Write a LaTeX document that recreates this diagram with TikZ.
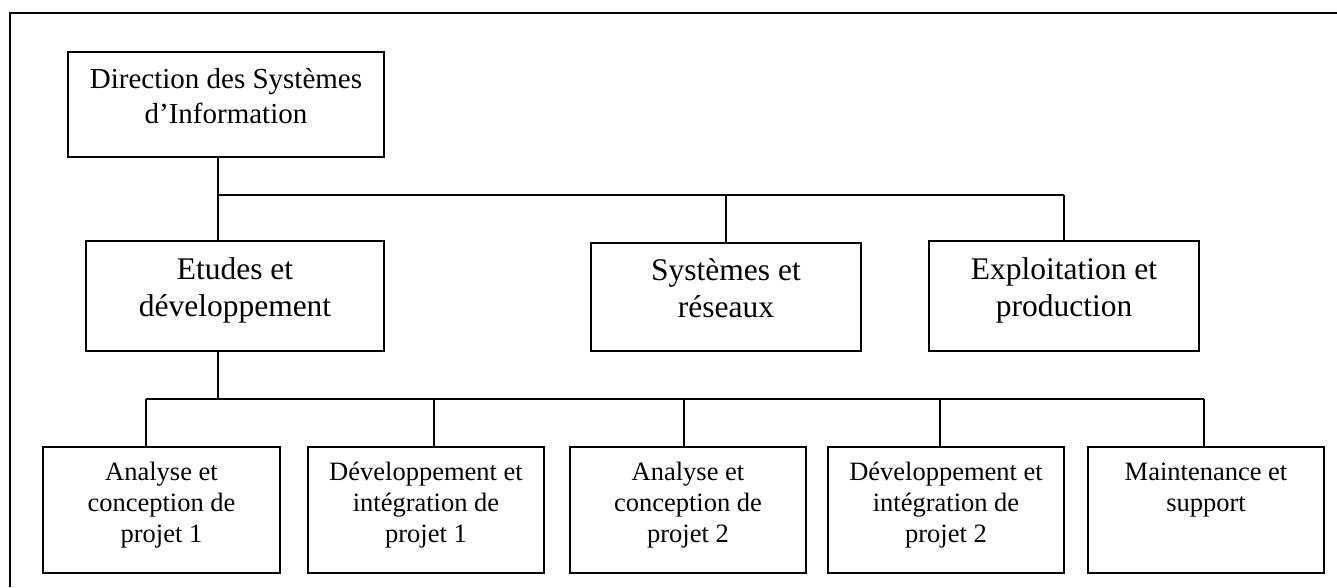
\documentclass[tikz,border=0pt]{standalone}
\usepackage{fontspec}
\setmainfont{Liberation Serif}
\begin{document}
\begin{tikzpicture}[x=1pt,y=-1pt,
  box/.style={draw, line width=2.2pt, rectangle, inner sep=0pt},
  conn/.style={line width=2.2pt},
  thinconn/.style={line width=1.5pt},
  lbltop/.style={align=center, inner sep=0pt, anchor=base, font=\fontsize{29}{35}\selectfont},
  lblmid/.style={align=center, inner sep=0pt, anchor=base, font=\fontsize{31.5}{37}\selectfont},
  lblbot/.style={align=center, inner sep=0pt, anchor=base, font=\fontsize{26.5}{31}\selectfont}]
\useasboundingbox (0,0) rectangle (1337,587);
% page frame (open towards right and bottom)
\draw[line width=2.2pt] (10,587) -- (10,13) -- (1337,13);

% boxes
\node[box, minimum width=316pt, minimum height=105pt] (dsi) at (226,104.5) {};
\node[box, minimum width=298pt, minimum height=110pt] (etu) at (235,296) {};
\node[box, minimum width=270pt, minimum height=108pt] (sys) at (726,297) {};
\node[box, minimum width=270pt, minimum height=110pt] (exp) at (1064,296) {};
\node[box, minimum width=237pt, minimum height=126pt] (b1) at (161.5,510) {};
\node[box, minimum width=236pt, minimum height=126pt] (b2) at (426,510) {};
\node[box, minimum width=236pt, minimum height=126pt] (b3) at (688,510) {};
\node[box, minimum width=236pt, minimum height=126pt] (b4) at (946,510) {};
\node[box, minimum width=236pt, minimum height=126pt] (b5) at (1206,510) {};

% texts, top aligned in their boxes (base anchor = baseline of last line)
\node[lbltop] (dsi-t) at ([yshift=-73pt]dsi.north) {Direction des Systèmes\\d’Information};
\node[lblmid] (etu-t) at ([yshift=-77pt]etu.north) {Etudes et\\développement};
\node[lblmid] (sys-t) at ([yshift=-76pt]sys.north) {Systèmes et\\réseaux};
\node[lblmid] (exp-t) at ([yshift=-77pt]exp.north) {Exploitation et\\production};
\node[lblbot] (b1-t) at ([yshift=-97pt]b1.north) {Analyse et\\conception de\\projet 1};
\node[lblbot] (b2-t) at ([yshift=-97pt]b2.north) {Développement et\\intégration de\\projet 1};
\node[lblbot] (b3-t) at ([yshift=-97pt]b3.north) {Analyse et\\conception de\\projet 2};
\node[lblbot] (b4-t) at ([yshift=-97pt]b4.north) {Développement et\\intégration de\\projet 2};
\node[lblbot] (b5-t) at ([yshift=-66pt]b5.north) {Maintenance et\\support};

% upper level connectors
\coordinate (t0) at (218,195);
\coordinate (ts) at (726,195);
\coordinate (te) at (1064,195);
\draw[conn] (t0 |- dsi.south) -- (t0 |- etu.north);
\draw[conn] (t0) -- (te);
\draw[thinconn] (ts) -- (sys.north);
\draw[thinconn] (te) -- (exp.north);

% lower level connectors
\coordinate (k0) at (218,399);
\coordinate (k1) at (146,399);
\coordinate (k2) at (434,399);
\coordinate (k3) at (684,399);
\coordinate (k4) at (940,399);
\coordinate (k5) at (1204,399);
\draw[conn] (k0 |- etu.south) -- (k0);
\draw[conn] (k1) -- (k5);
\draw[conn] (k1) -- (k1 |- b1.north);
\draw[conn] (k2) -- (k2 |- b2.north);
\draw[conn] (k3) -- (k3 |- b3.north);
\draw[conn] (k4) -- (k4 |- b4.north);
\draw[conn] (k5) -- (k5 |- b5.north);
\end{tikzpicture}
\end{document}
